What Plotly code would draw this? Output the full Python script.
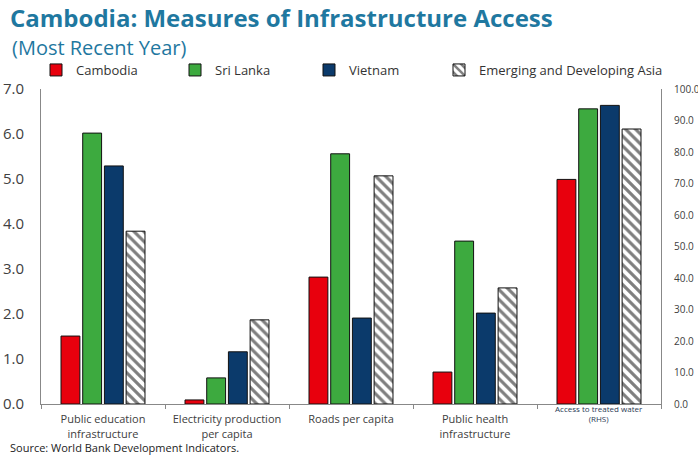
import plotly.graph_objects as go

categories = ["Public education infrastructure", "Electricity production per capita",
              "Roads per capita", "Public health infrastructure", "Access to treated water (RHS)"]
tick_labels = ["Public education<br>infrastructure", "Electricity production<br>per capita",
               "Roads per capita", "Public health<br>infrastructure", ""]
rhs_label = "Access to treated water<br>(RHS)"

series_names = ["Cambodia", "Sri Lanka", "Vietnam", "Emerging and Developing Asia"]
cambodia = [1.51, 0.09, 2.82, 0.71]
sri_lanka = [6.02, 0.58, 5.56, 3.62]
vietnam = [5.29, 1.16, 1.91, 2.02]
eda = [3.84, 1.87, 5.07, 2.58]
water_rhs = [71.3, 93.7, 94.8, 87.3]

lhs_values = [cambodia, sri_lanka, vietnam, eda]
colors = ["#E8000D", "#3DAA3F", "#0B3A6B", "#FFFFFF"]
legend_ids = ["legend", "legend2", "legend3", "legend4"]
legend_text_px = [75, 214, 348, 478]

fig = go.Figure()
for i, name in enumerate(series_names):
    is_hatch = i == 3
    marker = dict(color=colors[i], line=dict(color="#111111", width=1))
    if is_hatch:
        marker["pattern"] = dict(shape="\\", fgcolor="#000000", bgcolor="#FFFFFF", size=7, solidity=0.45)
    fig.add_trace(go.Bar(x=categories[:4], y=lhs_values[i], name=name, legendgroup=name,
                         legend=legend_ids[i], offsetgroup=name, marker=marker, yaxis="y"))
    fig.add_trace(go.Bar(x=[categories[4]], y=[water_rhs[i]], name=name, legendgroup=name,
                         offsetgroup=name, marker=marker, yaxis="y2", showlegend=False))

PL, PW, PT, PH = 41, 620, 89, 315
legend_layout = {}
for i, lid in enumerate(legend_ids):
    legend_layout[lid] = dict(x=(legend_text_px[i] - 39 - PL) / PW, xanchor="left",
                              y=1 + (PT - 70) / PH, yanchor="middle", orientation="h",
                              bgcolor="rgba(0,0,0,0)", borderwidth=0,
                              font=dict(size=13, color="#333333", family="Open Sans"))

title_color = "#1F78A0"
fig.update_layout(
    width=698, height=455,
    margin=dict(l=PL, r=37, t=PT, b=51, autoexpand=False),
    paper_bgcolor="white", plot_bgcolor="white",
    font=dict(family="Open Sans", color="#404040", size=12),
    barmode="group", bargap=0.3, bargroupgap=0.13,
    showlegend=True,
    xaxis=dict(type="category", categoryorder="array", categoryarray=categories,
               tickmode="array", tickvals=categories, ticktext=tick_labels, tickangle=0,
               automargin=False, ticklabelstandoff=5,
               tickson="boundaries", ticks="outside", ticklen=4, tickcolor="#888888",
               showline=True, linecolor="#888888", linewidth=1,
               tickfont=dict(size=11, color="#404040"), showgrid=False),
    yaxis=dict(range=[0, 7], dtick=1, tickformat=".1f", showline=True, linecolor="#888888",
               linewidth=1, showgrid=False, zeroline=False, ticks="", automargin=False,
               tickfont=dict(size=15, color="#404040"), ticklabelstandoff=13),
    yaxis2=dict(range=[0, 100], dtick=10, tickformat=".1f", overlaying="y", side="right",
                showline=True, linecolor="#888888", linewidth=1, showgrid=False, zeroline=False,
                ticks="", automargin=False, tickfont=dict(size=10, color="#404040"),
                ticklabelstandoff=10),
    annotations=[
        dict(text="<b>Cambodia: Measures of Infrastructure Access</b>", xref="paper", yref="paper",
             x=-33/620, y=1 + (89 - 18) / 315, xanchor="left", yanchor="middle", showarrow=False,
             font=dict(size=24, color=title_color, family="Open Sans")),
        dict(text="(Most Recent Year)", xref="paper", yref="paper",
             x=-31/620, y=1 + (89 - 47) / 315, xanchor="left", yanchor="middle", showarrow=False,
             font=dict(size=20, color=title_color, family="Open Sans")),
        dict(text=rhs_label, xref="x", yref="paper", x=categories[4],
             y=-(414 - 404) / 315, xanchor="center", yanchor="middle", showarrow=False,
             font=dict(size=8, color="#2b3a55", family="Open Sans")),
        dict(text="Source: World Bank Development Indicators.", xref="paper", yref="paper",
             x=-33/620, y=-(447 - 404) / 315, xanchor="left", yanchor="middle", showarrow=False,
             font=dict(size=11, color="#222222", family="Open Sans")),
    ],
    **legend_layout,
)

fig.write_html("out.html")
